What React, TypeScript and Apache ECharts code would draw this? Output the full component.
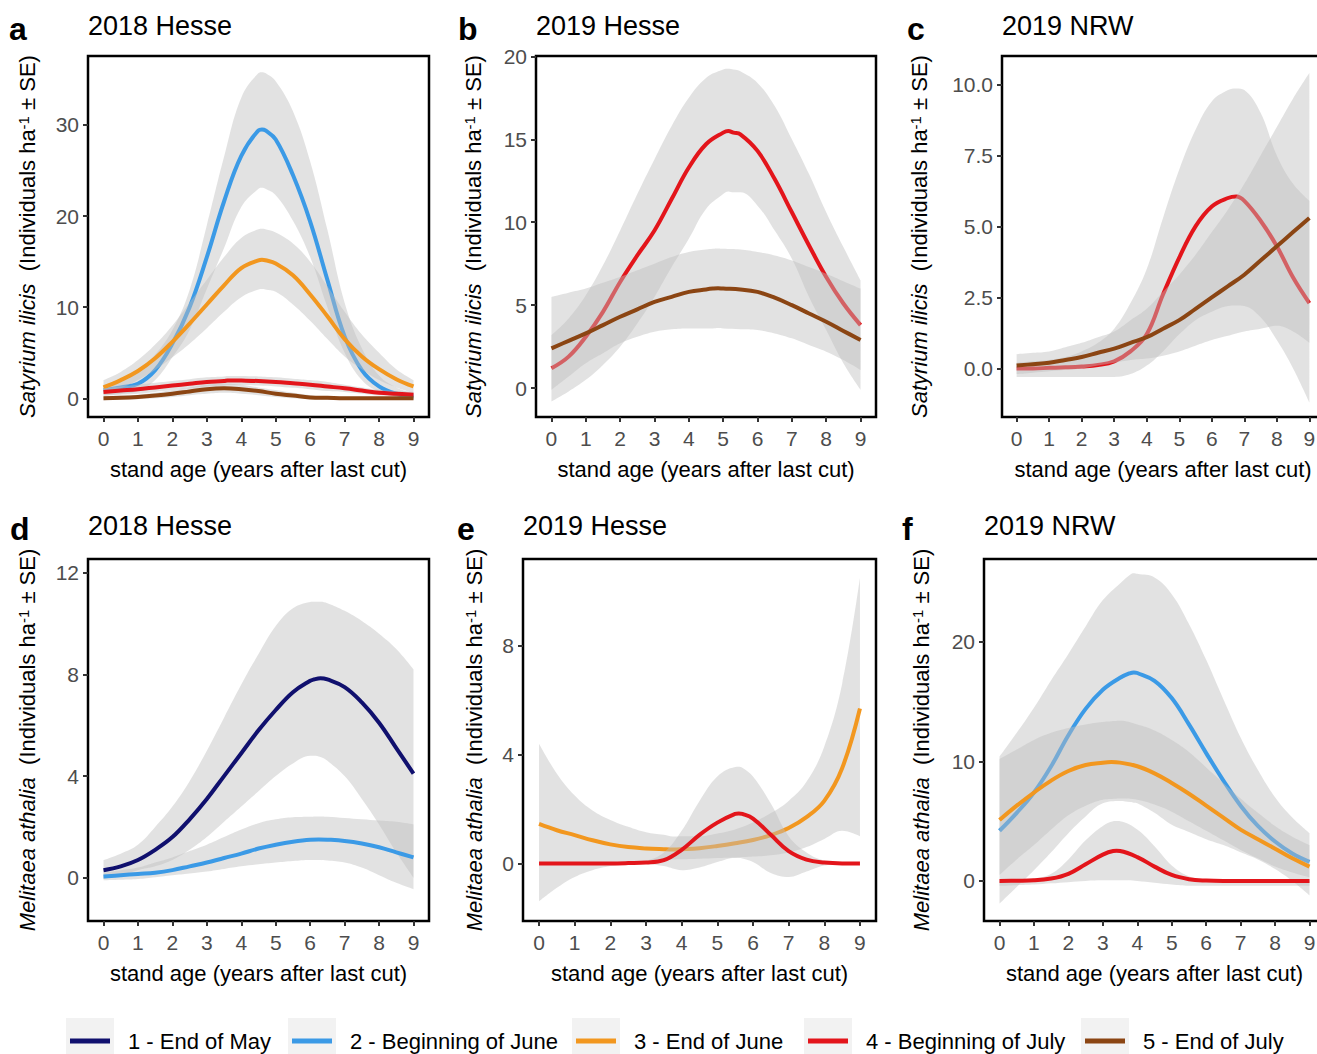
import React, { useEffect, useRef } from "react";
import * as echarts from "echarts";

const FONT = '"Liberation Sans", Arial, Helvetica, sans-serif';
const RIBBON = "rgba(190,190,190,0.45)";

// ---------- data ----------
const XS = [0, 0.5, 1, 1.5, 2, 2.5, 3, 3.5, 4, 4.5, 5, 5.5, 6, 6.5, 7, 7.5, 8, 8.5, 9];
const X_TICKS = [0, 1, 2, 3, 4, 5, 6, 7, 8, 9];

const LEGEND_NAMES = ["1 - End of May", "2 - Beginning of June", "3 - End of June", "4 - Beginning of July", "5 - End of July"];
const COLORS = ["#10106e", "#3b9ae6", "#f2971f", "#e3151b", "#8b4513"];

const PANEL_LETTERS = ["a", "b", "c", "d", "e", "f"];
const PANEL_TITLES = ["2018 Hesse", "2019 Hesse", "2019 NRW", "2018 Hesse", "2019 Hesse", "2019 NRW"];
const SPECIES = ["Satyrium ilicis", "Satyrium ilicis", "Satyrium ilicis", "Melitaea athalia", "Melitaea athalia", "Melitaea athalia"];
const X_TITLE = "stand age (years after last cut)";

const Y_RANGES = [[-2.05, 37.57], [-1.74, 20.02], [-1.71, 11.0], [-1.7, 12.54], [-2.12, 11.2], [-3.35, 26.94]];
const Y_TICKS = [[0, 10, 20, 30], [0, 5, 10, 15, 20], [0, 2.5, 5, 7.5, 10], [0, 4, 8, 12], [0, 4, 8], [0, 10, 20]];
const Y_DECIMALS = [0, 0, 1, 0, 0, 0];

// extra points around each curve's turning point: [x, mean, lower, upper]
// panel a – Satyrium ilicis 2018 Hesse
const A2_MEAN = [0.9, 1.2, 1.6, 3.1, 6.0, 10.0, 15.5, 21.6, 26.6, 29.4, 28.4, 24.5, 19.4, 13.0, 6.8, 3.1, 1.3, 0.5, 0.2];
const A2_UP = [1.5, 2.0, 3.0, 4.8, 7.5, 11.9, 19.0, 26.5, 33.0, 35.7, 34.8, 31.5, 26.0, 18.5, 10.5, 5.5, 2.5, 1.2, 0.6];
const A2_LO = [0.3, 0.5, 0.8, 2.0, 4.5, 7.5, 12.0, 16.5, 21.0, 23.0, 22.3, 19.5, 15.5, 10.0, 5.0, 2.0, 0.7, 0.2, 0.0];
const A2_PEAK = [[4.6, 29.5, 23.1, 35.8], [4.7, 29.4, 23.0, 35.7]];
const A3_MEAN = [1.2, 2.0, 3.0, 4.4, 6.2, 8.2, 10.3, 12.4, 14.3, 15.15, 14.8, 13.5, 11.4, 9.0, 6.5, 4.6, 3.2, 2.1, 1.3];
const A3_UP = [2.0, 2.9, 4.2, 5.9, 8.0, 10.5, 13.0, 15.5, 17.6, 18.55, 18.2, 17.0, 15.0, 12.3, 9.5, 7.0, 5.0, 3.2, 2.0];
const A3_LO = [0.5, 1.1, 2.0, 3.1, 4.5, 6.0, 7.7, 9.5, 11.1, 11.95, 11.7, 10.3, 8.5, 6.5, 4.6, 3.2, 2.0, 1.2, 0.6];
const A3_PEAK = [[4.6, 15.2, 12.0, 18.6], [4.7, 15.15, 11.95, 18.55]];
const A4_MEAN = [0.7, 0.85, 1.0, 1.2, 1.4, 1.6, 1.8, 1.9, 1.95, 1.9, 1.8, 1.65, 1.5, 1.3, 1.1, 0.85, 0.6, 0.5, 0.4];
const A4_UP = [1.1, 1.3, 1.5, 1.7, 1.9, 2.1, 2.3, 2.4, 2.45, 2.4, 2.3, 2.15, 2.0, 1.8, 1.5, 1.2, 0.95, 0.8, 0.7];
const A4_LO = [0.3, 0.4, 0.5, 0.7, 0.9, 1.1, 1.3, 1.4, 1.45, 1.4, 1.3, 1.15, 1.0, 0.8, 0.7, 0.5, 0.3, 0.2, 0.1];
const A4_PEAK = [[3.8, 1.96, 1.46, 2.46], [3.6, 1.95, 1.45, 2.45]];
const A5_MEAN = [0.0, 0.05, 0.15, 0.3, 0.5, 0.75, 1.0, 1.1, 1.0, 0.8, 0.5, 0.3, 0.1, 0.05, 0.0, 0.0, 0.0, 0.0, 0.0];
const A5_UP = [0.2, 0.3, 0.4, 0.6, 0.9, 1.2, 1.5, 1.6, 1.5, 1.2, 0.9, 0.6, 0.35, 0.2, 0.15, 0.1, 0.1, 0.1, 0.1];
const A5_LO = [-0.2, -0.15, -0.1, 0.0, 0.15, 0.35, 0.5, 0.6, 0.5, 0.35, 0.15, 0.0, -0.1, -0.15, -0.15, -0.15, -0.15, -0.15, -0.15];

// panel b – Satyrium ilicis 2019 Hesse
const B4_MEAN = [1.2, 1.9, 3.1, 4.6, 6.4, 8.0, 9.5, 11.4, 13.3, 14.7, 15.4, 15.3, 14.3, 12.6, 10.6, 8.6, 6.7, 5.1, 3.8];
const B4_UP = [3.2, 4.2, 5.6, 7.4, 9.5, 11.7, 13.8, 15.8, 17.5, 18.7, 19.2, 19.1, 18.4, 17.0, 15.0, 12.9, 10.6, 8.5, 6.5];
const B4_LO = [-0.8, -0.2, 0.5, 1.4, 2.5, 3.9, 5.5, 7.3, 9.0, 10.8, 11.7, 11.8, 11.0, 9.5, 7.8, 5.5, 3.5, 1.5, -0.1];
const B4_PEAK = [[5.15, 15.5, 11.85, 19.25], [5.3, 15.4, 11.8, 19.2]];
const B5_MEAN = [2.4, 2.85, 3.3, 3.8, 4.3, 4.75, 5.2, 5.5, 5.8, 5.95, 6.0, 5.95, 5.8, 5.45, 5.0, 4.5, 4.0, 3.45, 2.9];
const B5_UP = [5.5, 5.75, 6.0, 6.35, 6.7, 7.1, 7.5, 7.9, 8.2, 8.35, 8.4, 8.35, 8.2, 8.0, 7.7, 7.3, 6.9, 6.45, 6.0];
const B5_LO = [-0.1, 0.7, 1.5, 2.1, 2.7, 3.1, 3.4, 3.55, 3.6, 3.6, 3.6, 3.55, 3.5, 3.3, 3.0, 2.6, 2.2, 1.7, 1.1];
const B5_PEAK = [[4.85, 6.02, 3.62, 8.42], [4.7, 6.0, 3.6, 8.4]];

// panel c – Satyrium ilicis 2019 NRW
const C4_MEAN = [0.0, 0.0, 0.02, 0.04, 0.07, 0.12, 0.25, 0.6, 1.2, 2.6, 3.9, 5.0, 5.7, 6.0, 5.9, 5.2, 4.3, 3.2, 2.3];
const C4_UP = [0.2, 0.25, 0.3, 0.4, 0.6, 0.9, 1.4, 2.3, 3.5, 5.3, 7.0, 8.4, 9.4, 9.8, 9.8, 9.0, 7.5, 6.5, 5.9];
const C4_LO = [-0.3, -0.3, -0.3, -0.3, -0.3, -0.3, -0.3, -0.2, 0.1, 0.6, 1.2, 1.7, 2.0, 2.2, 2.2, 1.8, 1.0, 0.0, -1.2];
const C4_PEAK = [[6.75, 6.05, 2.22, 9.86]];
const C5_MEAN = [0.1, 0.15, 0.2, 0.3, 0.4, 0.55, 0.7, 0.9, 1.1, 1.4, 1.7, 2.1, 2.5, 2.9, 3.3, 3.8, 4.3, 4.8, 5.3];
const C5_UP = [0.5, 0.55, 0.6, 0.75, 0.9, 1.1, 1.3, 1.7, 2.1, 2.7, 3.3, 4.0, 4.8, 5.6, 6.5, 7.5, 8.5, 9.5, 10.4];
const C5_LO = [-0.2, -0.15, -0.1, -0.05, 0.0, 0.1, 0.2, 0.3, 0.35, 0.45, 0.6, 0.8, 1.0, 1.15, 1.3, 1.4, 1.5, 1.3, 0.9];

// panel d – Melitaea athalia 2018 Hesse
const D1_MEAN = [0.3, 0.45, 0.7, 1.1, 1.6, 2.3, 3.1, 4.0, 4.9, 5.8, 6.6, 7.3, 7.75, 7.8, 7.5, 6.9, 6.1, 5.1, 4.1];
const D1_UP = [0.7, 0.95, 1.3, 2.0, 2.8, 3.8, 5.0, 6.3, 7.6, 8.8, 9.9, 10.6, 10.85, 10.8, 10.5, 10.1, 9.6, 9.0, 8.2];
const D1_LO = [-0.05, 0.1, 0.3, 0.45, 0.7, 1.1, 1.6, 2.2, 2.8, 3.4, 4.0, 4.5, 4.8, 4.6, 4.0, 3.1, 2.1, 1.0, 0.0];
const D1_PEAK = [[6.1, 7.8, 4.8, 10.86], [6.3, 7.85, 4.75, 10.86]];
const D2_MEAN = [0.05, 0.1, 0.15, 0.2, 0.3, 0.45, 0.6, 0.78, 0.95, 1.15, 1.3, 1.42, 1.5, 1.5, 1.45, 1.35, 1.2, 1.0, 0.8];
const D2_UP = [0.2, 0.3, 0.4, 0.6, 0.8, 1.05, 1.3, 1.6, 1.9, 2.15, 2.3, 2.38, 2.4, 2.4, 2.35, 2.3, 2.25, 2.2, 2.1];
const D2_LO = [-0.1, -0.08, -0.05, 0.02, 0.1, 0.17, 0.25, 0.35, 0.45, 0.53, 0.6, 0.66, 0.7, 0.68, 0.6, 0.4, 0.1, -0.2, -0.45];
const D2_PEAK = [[6.25, 1.51, 0.7, 2.41]];

// panel e – Melitaea athalia 2019 Hesse
const E3_MEAN = [1.45, 1.22, 1.04, 0.85, 0.7, 0.6, 0.55, 0.52, 0.52, 0.56, 0.64, 0.74, 0.86, 1.04, 1.3, 1.7, 2.3, 3.5, 5.7];
const E3_UP = [4.4, 3.3, 2.5, 1.95, 1.6, 1.35, 1.15, 1.05, 1.0, 1.0, 1.1, 1.25, 1.5, 1.85, 2.3, 3.0, 4.3, 6.6, 10.5];
const E3_LO = [-1.4, -0.9, -0.5, -0.25, -0.1, 0.0, 0.1, 0.12, 0.15, 0.17, 0.2, 0.22, 0.25, 0.3, 0.4, 0.6, 0.9, 1.2, 1.0];
const E3_MIN = [[3.75, 0.51, 0.14, 0.99]];
const E4_MEAN = [0, 0, 0, 0, 0, 0.01, 0.03, 0.12, 0.5, 1.05, 1.5, 1.82, 1.65, 1.05, 0.45, 0.14, 0.03, 0.0, 0.0];
const E4_UP = [0, 0, 0, 0, 0.01, 0.03, 0.1, 0.4, 1.2, 2.3, 3.2, 3.55, 3.2, 2.2, 1.0, 0.4, 0.1, 0.02, 0];
const E4_LO = [0, 0, 0, 0, 0, 0, -0.02, -0.1, -0.25, -0.15, 0.05, 0.2, 0.05, -0.35, -0.5, -0.3, -0.08, -0.02, 0];
const E4_PEAK = [[5.6, 1.84, 0.2, 3.56], [5.7, 1.82, 0.18, 3.52]];

// panel f – Melitaea athalia 2019 NRW
const F2_MEAN = [4.2, 5.7, 7.4, 9.6, 12.2, 14.4, 16.0, 17.0, 17.4, 16.75, 15.3, 13.1, 10.7, 8.4, 6.3, 4.6, 3.3, 2.3, 1.6];
const F2_UP = [10.4, 12.4, 14.5, 16.8, 19.0, 21.3, 23.5, 24.9, 25.7, 25.4, 24.0, 21.5, 18.5, 15.2, 12.0, 9.3, 7.0, 5.3, 4.0];
const F2_LO = [-1.9, -0.5, 0.9, 2.4, 4.0, 5.4, 6.5, 6.7, 6.5, 5.7, 4.7, 4.1, 3.5, 3.0, 2.4, 1.8, 1.0, 0.0, -1.2];
const F2_PEAK = [[3.8, 17.4, 6.6, 25.65], [3.9, 17.45, 6.55, 25.75]];
const F3_MEAN = [5.1, 6.3, 7.4, 8.4, 9.2, 9.7, 9.9, 9.9, 9.6, 9.0, 8.2, 7.3, 6.3, 5.3, 4.3, 3.5, 2.7, 1.9, 1.2];
const F3_UP = [10.2, 11.0, 11.8, 12.4, 12.8, 13.1, 13.3, 13.4, 13.1, 12.6, 11.8, 10.8, 9.5, 8.2, 6.9, 5.7, 4.6, 3.7, 3.0];
const F3_LO = [0.5, 1.8, 3.0, 4.3, 5.5, 6.3, 6.8, 6.9, 6.8, 6.4, 5.8, 5.0, 4.2, 3.4, 2.6, 1.9, 1.2, 0.7, 0.3];
const F3_PEAK = [[3.25, 9.95, 6.86, 13.36]];
const F4_MEAN = [0, 0.02, 0.05, 0.2, 0.6, 1.4, 2.2, 2.5, 2.0, 1.2, 0.5, 0.15, 0.03, 0, 0, 0, 0, 0, 0];
const F4_UP = [0.0, 0.1, 0.2, 0.6, 1.8, 3.4, 4.6, 5.0, 4.3, 2.9, 1.3, 0.4, 0.1, 0.03, 0, 0, 0, 0, 0];
const F4_LO = [-0.4, -0.35, -0.3, -0.2, -0.1, 0.0, 0.05, 0.05, 0.0, -0.15, -0.3, -0.4, -0.4, -0.4, -0.4, -0.4, -0.4, -0.4, -0.4];
const F4_PEAK = [[3.3, 2.5, 0.05, 5.0], [3.4, 2.52, 0.05, 5.02]];

type Curve = { k: number; mean: number[]; up: number[]; lo: number[]; extra?: number[][] };
const PANEL_CURVES: Curve[][] = [
  [
    { k: 1, mean: A2_MEAN, up: A2_UP, lo: A2_LO, extra: A2_PEAK },
    { k: 2, mean: A3_MEAN, up: A3_UP, lo: A3_LO, extra: A3_PEAK },
    { k: 3, mean: A4_MEAN, up: A4_UP, lo: A4_LO, extra: A4_PEAK },
    { k: 4, mean: A5_MEAN, up: A5_UP, lo: A5_LO },
  ],
  [
    { k: 3, mean: B4_MEAN, up: B4_UP, lo: B4_LO, extra: B4_PEAK },
    { k: 4, mean: B5_MEAN, up: B5_UP, lo: B5_LO, extra: B5_PEAK },
  ],
  [
    { k: 3, mean: C4_MEAN, up: C4_UP, lo: C4_LO, extra: C4_PEAK },
    { k: 4, mean: C5_MEAN, up: C5_UP, lo: C5_LO },
  ],
  [
    { k: 0, mean: D1_MEAN, up: D1_UP, lo: D1_LO, extra: D1_PEAK },
    { k: 1, mean: D2_MEAN, up: D2_UP, lo: D2_LO, extra: D2_PEAK },
  ],
  [
    { k: 2, mean: E3_MEAN, up: E3_UP, lo: E3_LO, extra: E3_MIN },
    { k: 3, mean: E4_MEAN, up: E4_UP, lo: E4_LO, extra: E4_PEAK },
  ],
  [
    { k: 1, mean: F2_MEAN, up: F2_UP, lo: F2_LO, extra: F2_PEAK },
    { k: 2, mean: F3_MEAN, up: F3_UP, lo: F3_LO, extra: F3_PEAK },
    { k: 3, mean: F4_MEAN, up: F4_UP, lo: F4_LO, extra: F4_PEAK },
  ],
];

// ---------- layout ----------
const GRIDS = [
  { left: 88, top: 56, width: 341, height: 361 },
  { left: 536, top: 56, width: 340, height: 361 },
  { left: 1002, top: 56, width: 322, height: 361 },
  { left: 88, top: 559, width: 341, height: 362 },
  { left: 523, top: 559, width: 353, height: 362 },
  { left: 984, top: 559, width: 341, height: 362 },
];
const NAME_GAPS = [50, 52, 72, 50, 38, 52];
const LETTER_POS = [[9, 29], [458, 29], [907, 29], [10, 529], [457, 529], [902, 529]];
const TITLE_Y = [26, 26, 26, 526, 526, 526];
const LEGEND_TEXT_X = [128, 350, 634, 866, 1143];
const SMOOTH = 0.4;

function curvePoints(c: Curve) {
  const pts = XS.map((x, i) => ({ x, m: c.mean[i], lo: c.lo[i], up: c.up[i] }));
  (c.extra || []).forEach((e) => pts.push({ x: e[0], m: e[1], lo: e[2], up: e[3] }));
  pts.sort((a, b) => a.x - b.x);
  return pts;
}

function buildOption() {
  const series: any[] = [];
  PANEL_CURVES.forEach((curves, p) => {
    curves.forEach((c, j) => {
      const stack = `p${p}-c${c.k}`;
      const pts = curvePoints(c);
      const zr = 2 + 2 * j;
      // value first so the stack is computed on the y dimension
      series.push({
        type: "line",
        xAxisIndex: p,
        yAxisIndex: p,
        z: zr,
        stack,
        stackStrategy: "all",
        encode: { x: 1, y: 0 },
        data: pts.map((d) => [d.lo, d.x]),
        symbol: "none",
        smooth: SMOOTH,
        silent: true,
        lineStyle: { width: 0, opacity: 0 },
      });
      series.push({
        type: "line",
        xAxisIndex: p,
        yAxisIndex: p,
        z: zr,
        stack,
        stackStrategy: "all",
        encode: { x: 1, y: 0 },
        data: pts.map((d) => [+(d.up - d.lo).toFixed(4), d.x]),
        symbol: "none",
        smooth: SMOOTH,
        silent: true,
        lineStyle: { width: 0, opacity: 0 },
        areaStyle: { color: RIBBON, opacity: 1 },
      });
      series.push({
        type: "line",
        name: LEGEND_NAMES[c.k],
        xAxisIndex: p,
        yAxisIndex: p,
        z: zr + 1,
        data: pts.map((d) => [d.x, d.m]),
        symbol: "none",
        smooth: SMOOTH,
        silent: true,
        lineStyle: { color: COLORS[c.k], width: 4 },
        itemStyle: { color: COLORS[c.k] },
      });
    });
  });

  const graphicEls: any[] = [];
  PANEL_LETTERS.forEach((l, i) => {
    graphicEls.push({
      type: "text",
      x: LETTER_POS[i][0],
      y: LETTER_POS[i][1],
      style: { text: l, font: `bold 32px ${FONT}`, fill: "#000", align: "left", verticalAlign: "middle" },
    });
    graphicEls.push({
      type: "text",
      x: GRIDS[i].left,
      y: TITLE_Y[i],
      style: { text: PANEL_TITLES[i], font: `27px ${FONT}`, fill: "#000", align: "left", verticalAlign: "middle" },
    });
  });
  LEGEND_TEXT_X.forEach((tx) => {
    graphicEls.push({
      type: "rect",
      z: 0,
      shape: { x: tx - 62, y: 1018, width: 48, height: 40 },
      style: { fill: "#f2f2f2" },
    });
  });

  return {
    animation: false,
    backgroundColor: "#ffffff",
    textStyle: { fontFamily: FONT },
    grid: GRIDS.map((g) => ({
      ...g,
      show: true,
      borderColor: "#000",
      borderWidth: 2.5,
      backgroundColor: "transparent",
      containLabel: false,
      outerBoundsMode: "none",
    })),
    xAxis: GRIDS.map((g, i) => ({
      type: "value",
      gridIndex: i,
      min: -0.45,
      max: 9.45,
      axisLine: { show: false, onZero: false },
      splitLine: { show: false },
      axisTick: { show: true, inside: false, length: 5, customValues: X_TICKS, lineStyle: { color: "#333", width: 2 } },
      axisLabel: { customValues: X_TICKS, margin: 11, fontSize: 21, color: "#4d4d4d", fontFamily: FONT },
      name: X_TITLE,
      nameLocation: "middle",
      nameGap: 41,
      nameTextStyle: { fontSize: 22, color: "#000", fontFamily: FONT },
    })),
    yAxis: GRIDS.map((g, i) => ({
      type: "value",
      gridIndex: i,
      min: Y_RANGES[i][0],
      max: Y_RANGES[i][1],
      axisLine: { show: false, onZero: false },
      splitLine: { show: false },
      axisTick: { show: true, inside: false, length: 5, customValues: Y_TICKS[i], lineStyle: { color: "#333", width: 2 } },
      axisLabel: {
        customValues: Y_TICKS[i],
        margin: 9,
        fontSize: 21,
        color: "#4d4d4d",
        fontFamily: FONT,
        formatter: (v: number) => v.toFixed(Y_DECIMALS[i]),
      },
      name: `{i|${SPECIES[i]}}  (Individuals ha{s|-1} ± SE)`,
      nameLocation: "middle",
      nameRotate: 90,
      nameGap: NAME_GAPS[i],
      nameTextStyle: {
        fontSize: 22,
        color: "#000",
        fontFamily: FONT,
        rich: {
          i: { fontStyle: "italic", fontSize: 22, color: "#000", fontFamily: FONT },
          s: { fontSize: 15, color: "#000", fontFamily: FONT, verticalAlign: "top" },
        },
      },
    })),
    legend: LEGEND_NAMES.map((n, i) => ({
      left: LEGEND_TEXT_X[i] - 58,
      top: 1030,
      padding: 0,
      itemWidth: 40,
      itemHeight: 5,
      itemGap: 0,
      z: 10,
      selectedMode: false,
      data: [{ name: n, icon: "rect", itemStyle: { color: COLORS[i], borderWidth: 0 } }],
      textStyle: { fontSize: 22, color: "#000", fontFamily: FONT, padding: [0, 0, 0, 13] },
    })),
    graphic: { elements: graphicEls },
    series,
  };
}

export default function App() {
  const ref = useRef<HTMLDivElement>(null);
  useEffect(() => {
    const chart = echarts.init(ref.current!, null, { renderer: "svg" });
    chart.setOption(buildOption() as any);
    return () => chart.dispose();
  }, []);
  return (
    <div
      ref={ref}
      style={{ position: "fixed", left: 0, top: 0, width: 1317, height: 1054, background: "#fff" }}
    />
  );
}
